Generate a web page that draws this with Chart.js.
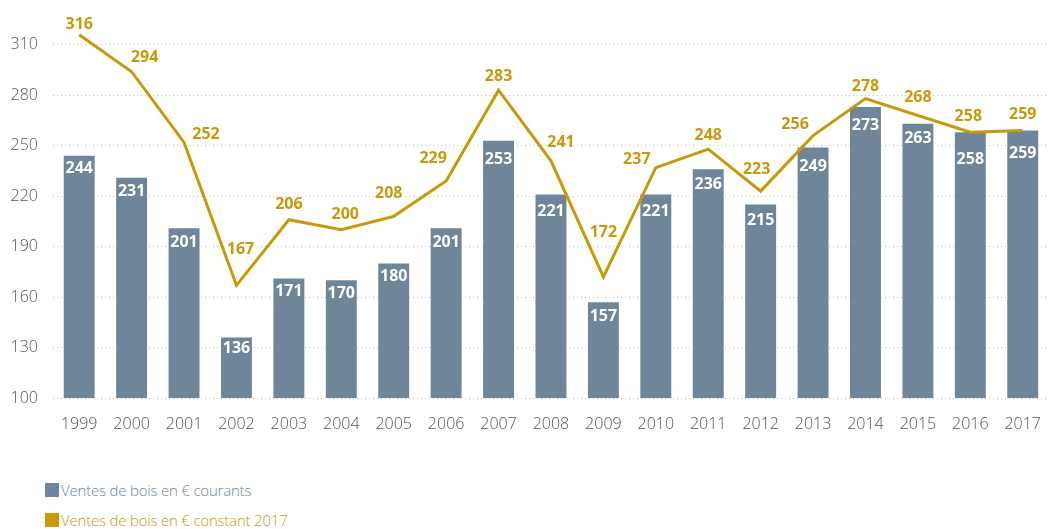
<!DOCTYPE html>
<html>
<head>
<meta charset="utf-8">
<script src="https://cdn.jsdelivr.net/npm/chart.js@4/dist/chart.umd.min.js"></script>
<style>
  html, body { margin: 0; padding: 0; background: #fff; overflow: hidden; width: 1051px; height: 529px; }
  #wrap { position: absolute; left: 0; top: 0; width: 1058px; height: 445px; }
  .legend { position: absolute; left: 45px; font-family: "Open Sans", "Noto Sans", sans-serif; font-size: 15px; font-weight: 300; display: flex; align-items: center; letter-spacing: -0.2px; }
  .legend span.sw { display: inline-block; width: 14px; height: 14px; margin-right: 2px; }
</style>
</head>
<body>
<div id="wrap"><canvas id="c"></canvas></div>
<div class="legend" id="lg1" style="top:480px;"><span class="sw" style="background:#6f8599"></span><span style="color:#6f8599">Ventes de bois en € courants</span></div>
<div class="legend" id="lg2" style="top:510px;"><span class="sw" style="background:#c8990b"></span><span style="color:#c8990b">Ventes de bois en € constant 2017</span></div>
<script>
const years = ['1999','2000','2001','2002','2003','2004','2005','2006','2007','2008','2009','2010','2011','2012','2013','2014','2015','2016','2017'];
const courants = [244,231,201,136,171,170,180,201,253,221,157,221,236,215,249,273,263,258,259];
const constant2017 = [316,294,252,167,206,200,208,229,283,241,172,237,248,223,256,278,268,258,259];
const yTicks = [100,130,160,190,220,250,280,310];
const seriesNames = ['Ventes de bois en € courants','Ventes de bois en € constant 2017'];

// label nudges (style only, pixels)
const lineLabelNudge = [[0,-10],[13,-14],[22,-8],[4,-36],[0,-15],[4,-15],[-5,-23],[-13,-23],[0,-14],[10,-18],[0,-44],[-19,-8],[0,-14],[-4,-22],[-18,-11],[0,-12],[0,-18],[-2,-16],[0,-16]];
const barLabelNudge = [13,14,14,11,13,13,13,14,19,17,14,17,15,16,19,18,15,27,23];

const BAR = '#6f8599';
const GOLD = '#c8990b';
const FONT = '"Open Sans", "Noto Sans", sans-serif';

const labelPlugin = {
  id: 'valueLabels',
  afterDatasetsDraw(chart) {
    const ctx = chart.ctx;
    ctx.save();
    ctx.font = 'bold 16px ' + FONT;
    ctx.textAlign = 'center';
    ctx.textBaseline = 'middle';
    const barMeta = chart.getDatasetMeta(1);
    ctx.fillStyle = '#ffffff';
    barMeta.data.forEach((el, i) => {
      ctx.fillText(String(courants[i]), el.x, el.y + barLabelNudge[i]);
    });
    const lineMeta = chart.getDatasetMeta(0);
    ctx.fillStyle = GOLD;
    lineMeta.data.forEach((el, i) => {
      const n = lineLabelNudge[i];
      ctx.fillText(String(constant2017[i]), el.x + n[0], el.y + n[1]);
    });
    ctx.restore();
  }
};

new Chart(document.getElementById('c'), {
  data: {
    labels: years,
    datasets: [
      {
        type: 'line',
        label: seriesNames[1],
        data: constant2017,
        borderColor: GOLD,
        backgroundColor: GOLD,
        borderWidth: 3,
        pointRadius: 0,
        tension: 0,
        order: 0
      },
      {
        type: 'bar',
        label: seriesNames[0],
        data: courants,
        backgroundColor: BAR,
        borderWidth: 0,
        barPercentage: 0.59,
        categoryPercentage: 1.0,
        order: 1
      }
    ]
  },
  options: {
    responsive: true,
    maintainAspectRatio: false,
    animation: false,
    layout: { padding: { top: 28, right: 0, bottom: 0, left: 0 } },
    plugins: { legend: { display: false }, tooltip: { enabled: false } },
    scales: {
      x: {
        grid: { display: false, drawTicks: false },
        border: { display: false },
        ticks: { color: '#555', font: { family: FONT, size: 16, weight: '300' }, padding: 17, maxRotation: 0, autoSkip: false },
        afterFit(s) { s.height = 47; }
      },
      y: {
        min: 100, max: 320,
        grid: { color: '#bdbdbd', lineWidth: 1, drawTicks: false },
        border: { display: false, dash: [1, 3] },
        ticks: { color: '#555', font: { family: FONT, size: 16, weight: '300' }, padding: 15 },
        afterBuildTicks(axis) { axis.ticks = yTicks.map(v => ({ value: v })); },
        afterFit(s) { s.width = 53; }
      }
    }
  },
  plugins: [labelPlugin]
});
</script>
</body>
</html>
